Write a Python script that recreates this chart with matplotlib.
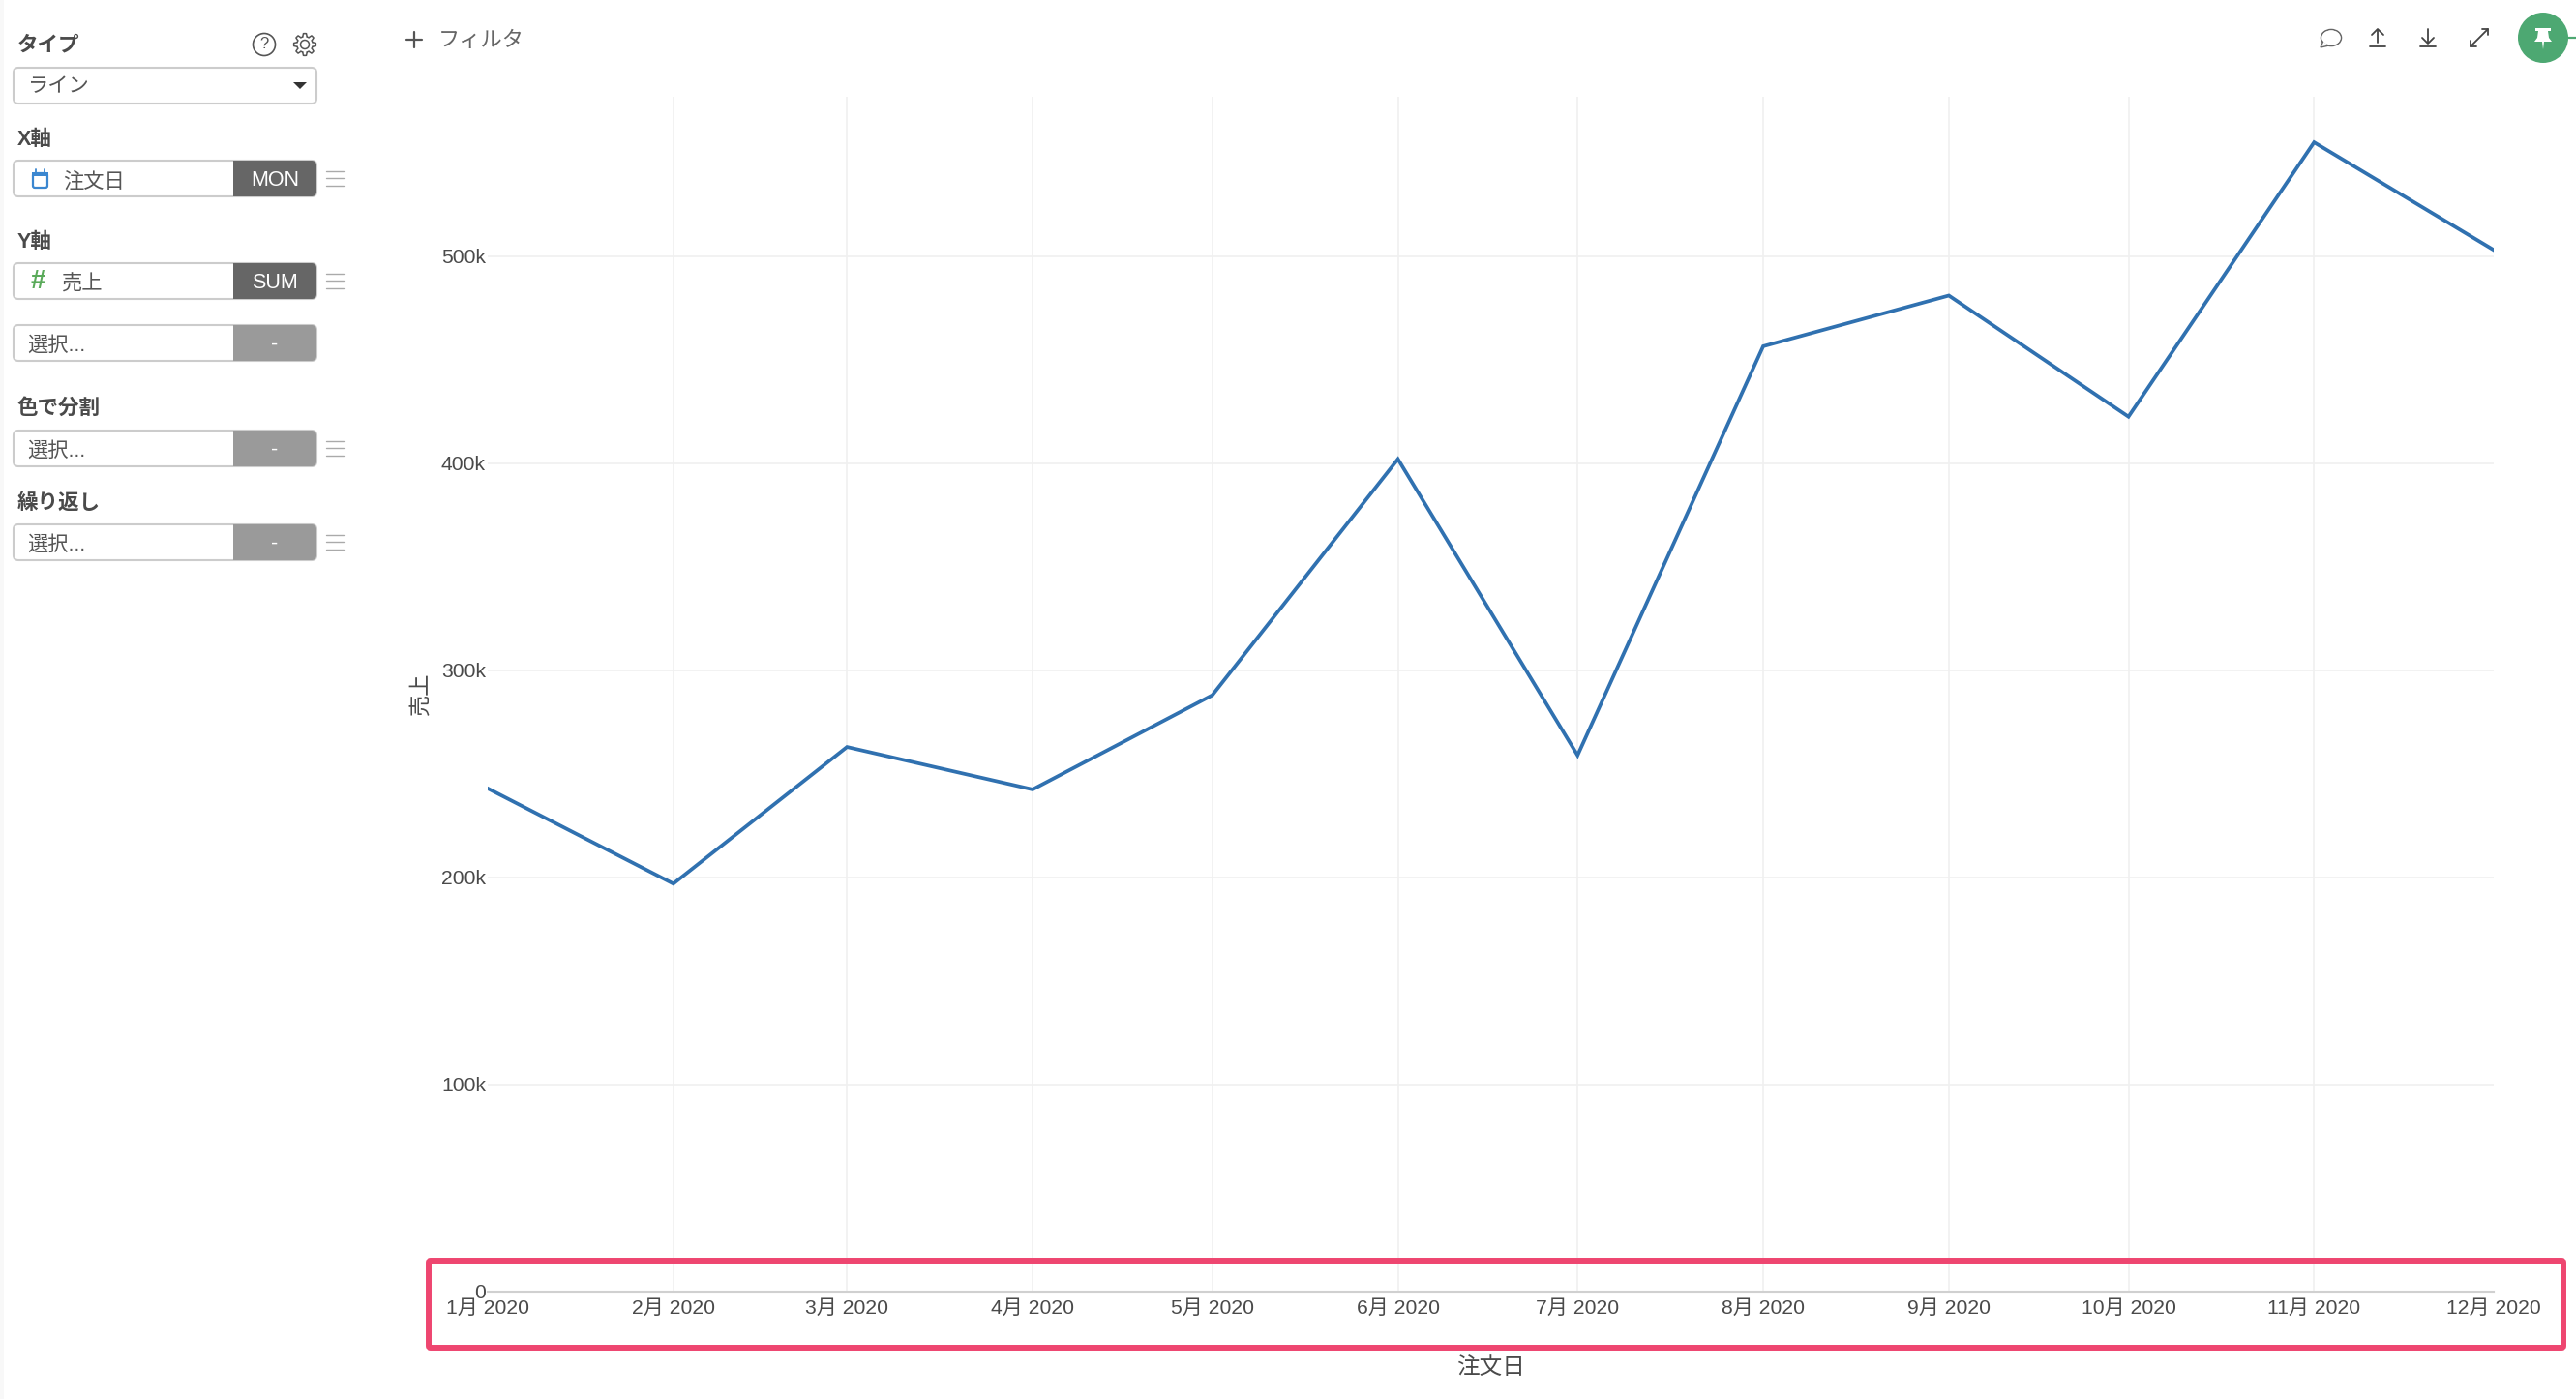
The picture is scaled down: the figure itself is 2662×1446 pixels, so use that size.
import numpy as np
import pandas as pd
import matplotlib
matplotlib.use('Agg')
import matplotlib.pyplot as plt
import matplotlib.dates as mdates
from matplotlib.patches import Circle, Ellipse, FancyBboxPatch, Polygon, Rectangle

plt.rcParams['font.family'] = ['Liberation Sans', 'Noto Sans CJK JP', 'DejaVu Sans']

months = ['2020-01-01', '2020-02-01', '2020-03-01', '2020-04-01', '2020-05-01', '2020-06-01',
          '2020-07-01', '2020-08-01', '2020-09-01', '2020-10-01', '2020-11-01', '2020-12-01']
sales = [243000, 197000, 263000, 242500, 288000, 402000,
         259000, 456500, 481000, 422500, 555000, 503000]
month_labels = ['1月 2020', '2月 2020', '3月 2020', '4月 2020', '5月 2020', '6月 2020',
                '7月 2020', '8月 2020', '9月 2020', '10月 2020', '11月 2020', '12月 2020']
y_ticks = [0, 100000, 200000, 300000, 400000, 500000]
y_labels = ['0', '100k', '200k', '300k', '400k', '500k']

W, H = 2662, 1446
TEXT = '#4a4a4a'
fig = plt.figure(figsize=(W / 100, H / 100), dpi=100, facecolor='white')

# chart, placed in pixels of the screenshot
x0, x1, y_top, y_base = 504, 2577, 100, 1335
ax = fig.add_axes([x0 / W, 1 - y_base / H, (x1 - x0) / W, (y_base - y_top) / H])
dates = pd.to_datetime(months)
ax.plot(dates, sales, color='#3071b0', lw=2.7, solid_joinstyle='miter', zorder=3)
ax.set_xlim(dates[0], dates[-1])
ax.set_ylim(0, 577000)
ax.set_xticks(mdates.date2num(dates))
ax.set_xticklabels(month_labels)
ax.set_yticks(y_ticks)
ax.set_yticklabels(y_labels)
ax.tick_params(axis='both', length=0, labelsize=15.2, labelcolor=TEXT)
ax.tick_params(axis='x', pad=6)
ax.tick_params(axis='y', pad=1.5)
ax.grid(True, color='#f0f0f0', lw=1.2)
ax.set_axisbelow(True)
ax.xaxis.get_gridlines()[0].set_visible(False)
ax.xaxis.get_gridlines()[-1].set_visible(False)
for name in ['top', 'left', 'right']:
    ax.spines[name].set_visible(False)
ax.spines['bottom'].set_color('#d0d0d0')
ax.spines['bottom'].set_linewidth(1.5)

# overlay in screenshot pixels for the app controls
ui = fig.add_axes([0, 0, 1, 1], facecolor='none')
ui.set_xlim(0, W)
ui.set_ylim(H, 0)
ui.axis('off')


def label(x, y, s, size=15, color=TEXT, ha='left', weight='normal', **kw):
    ui.text(x, y, s, fontsize=size, color=color, ha=ha, va='center', fontweight=weight, **kw)


def seg(xs, ys, color='#444444', lw=1.3):
    ui.plot(xs, ys, color=color, lw=lw, solid_capstyle='round')


def rbox(x, y, w, h, fc, ec='none', lw=0, r=5):
    p = FancyBboxPatch((x + r, y + r), w - 2 * r, h - 2 * r, boxstyle=f'round,pad={r},rounding_size={r}',
                       fc=fc, ec=ec, lw=lw)
    ui.add_patch(p)


def field(y, text, button, btn_color, text_x=28, menu=True):
    rbox(14, y, 313, 37, 'white', '#cccccc', 1.5)
    rbox(241, y, 86, 37, btn_color)
    ui.add_patch(Rectangle((241, y), 8, 37, fc=btn_color, ec='none'))
    label(text_x, y + 21, text, size=15.3, color='#555555')
    label(284, y + 20, button, size=15.5, color='white', ha='center')
    if menu:
        for dy in (11, 18, 26):
            seg([337, 356], [y + dy, y + dy], '#aaaaaa', 1.0)


# left panel edge
ui.add_patch(Rectangle((0, 0), 4, H, fc='#f8f8f8', ec='none'))

for y, s in [(47, 'タイプ'), (145, 'X軸'), (250, 'Y軸'), (422, '色で分割'), (520, '繰り返し')]:
    label(18, y, s, size=15.5, weight='bold')

rbox(14, 70, 313, 37, 'white', '#cccccc', 1.5)
label(29, 90, 'ライン', size=15.3, color='#555555')
ui.add_patch(Polygon([(303, 85), (317, 85), (310, 92)], fc='#333333', ec='none'))

field(166, '注文日', 'MON', '#666666', text_x=65)
field(272, '売上', 'SUM', '#666666', text_x=63)
field(336, '選択...', '-', '#9a9a9a', menu=False)
field(445, '選択...', '-', '#9a9a9a')
field(542, '選択...', '-', '#9a9a9a')

# calendar and hash icons
ui.add_patch(FancyBboxPatch((34, 179), 15, 15, boxstyle='round,pad=0,rounding_size=2', fc='none', ec='#3b87d0', lw=1.6))
ui.add_patch(Rectangle((33, 178), 17, 4, fc='#3b87d0', ec='none'))
seg([37, 37], [175, 179], '#3b87d0', 1.3)
seg([46, 46], [175, 179], '#3b87d0', 1.3)
label(39, 291, '#', size=20, color='#5aaa5a', ha='center', weight='bold')

# help and settings icons
ui.add_patch(Circle((273, 46), 11.5, fc='none', ec='#555555', lw=1.2))
label(273, 46, '?', size=12, color='#555555', ha='center')
theta = np.linspace(0, 2 * np.pi, 97)
radius = 9.8 + 1.6 * np.clip(2.2 * np.cos(8 * theta), -1, 1)
ui.add_patch(Polygon(np.c_[315 + radius * np.cos(theta), 46 + radius * np.sin(theta)], fc='none', ec='#555555', lw=1.1))
ui.add_patch(Circle((315, 46), 4.5, fc='none', ec='#555555', lw=1.1))

# filter
seg([420, 436], [41, 41], '#555555', 1.6)
seg([428, 428], [33, 49], '#555555', 1.6)
label(453, 42, 'フィルタ', size=16, color='#666666')

# top right icons
ui.add_patch(Ellipse((2409, 39), 21, 17, fc='none', ec='#666666', lw=1.1))
ui.add_patch(Polygon([(2401, 42), (2398, 49), (2407, 47)], fc='white', ec='#666666', lw=1.0))
ui.add_patch(Ellipse((2409, 39), 19, 15, fc='white', ec='none'))
seg([2449, 2465], [48, 48])
seg([2457, 2457], [31, 44])
seg([2451, 2457, 2463], [36, 30, 36])
seg([2501, 2517], [48, 48])
seg([2509, 2509], [30, 44])
seg([2503, 2509, 2515], [39, 45, 39])
seg([2553, 2571], [48, 30])
seg([2553, 2553, 2559], [42, 48, 48])
seg([2565, 2571, 2571], [30, 30, 36])
seg([2628, 2662], [39, 39], '#4da872', 1.6)
ui.add_patch(Circle((2628, 39), 26, fc='#4da872', ec='none', zorder=4))
pin = np.array([(-8, -10), (8, -10), (8, -7), (5, -7), (6, 0), (9, 4), (1, 4), (0, 12), (-1, 4), (-9, 4), (-6, 0), (-5, -7), (-8, -7)])
ui.add_patch(Polygon(pin + [2628, 39], fc='white', ec='none', zorder=5))

# axis titles
label(435, 717, '売上', size=16, ha='center', rotation=90, rotation_mode='anchor')
label(1540, 1414, '注文日', size=17, ha='center')

# highlight box
ui.add_patch(FancyBboxPatch((443, 1303), 2206, 90, boxstyle='round,pad=0,rounding_size=2', fc='none', ec='#ee4670', lw=4.3))

fig.savefig('out.png', dpi=100)
